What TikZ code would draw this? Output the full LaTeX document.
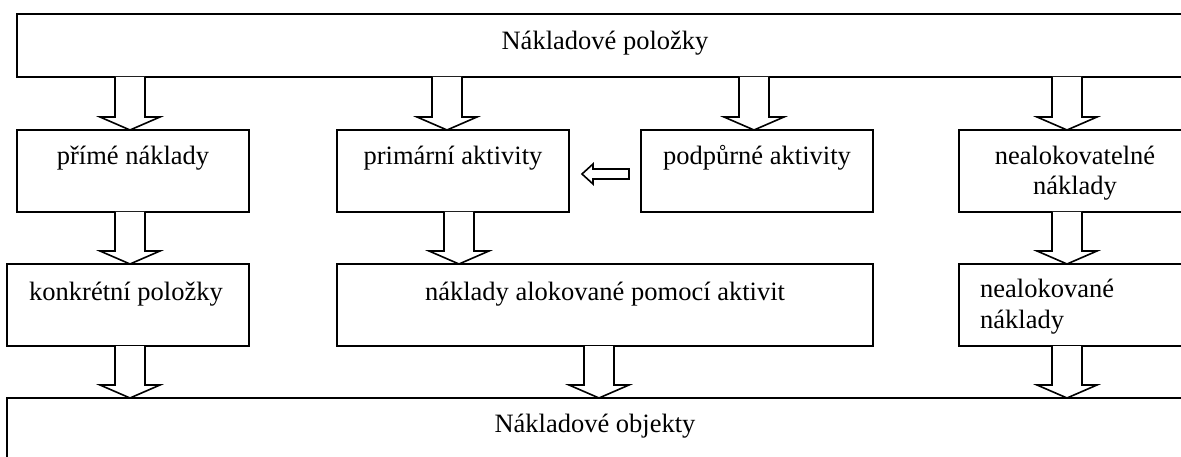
\documentclass[tikz,border=0pt]{standalone}
\usepackage{fontspec}
\setmainfont{Liberation Serif}
\usetikzlibrary{calc}
\tikzset{
  box/.style={draw, line width=1.6pt, inner sep=0pt, outer sep=0pt, anchor=north west},
  lbl/.style={font=\fontsize{26.5}{31}\selectfont, anchor=base, inner sep=0pt},
  lblw/.style={lbl, anchor=base west},
  fat/.style={draw, fill=white, line width=1.6pt, line join=miter},
}
\newcommand\fatdown[3]{%
  \draw[fat] let \p1=(#2.south), \p2=(#3.north) in
    ({#1pt-15pt},\y1) -- ({#1pt-15pt},{\y2+13pt}) -- ({#1pt-30pt},{\y2+13pt}) --
    (#1pt,\y2) -- ({#1pt+30pt},{\y2+13pt}) -- ({#1pt+15pt},{\y2+13pt}) -- ({#1pt+15pt},\y1);}
\begin{document}
\begin{tikzpicture}[x=1pt,y=-1pt]
\useasboundingbox (0,0) rectangle (1181,457);
\clip (0,0) rectangle (1181,457);
% boxes
\node[box, minimum width=1176pt, minimum height=63pt] (top) at (17,14) {};
\node[box, minimum width=232pt, minimum height=82pt] (pn) at (17,130) {};
\node[box, minimum width=232pt, minimum height=82pt] (pa) at (337,130) {};
\node[box, minimum width=232pt, minimum height=82pt] (pod) at (641,130) {};
\node[box, minimum width=232pt, minimum height=82pt] (nn) at (959,130) {};
\node[box, minimum width=242pt, minimum height=82pt] (kp) at (7,264) {};
\node[box, minimum width=536pt, minimum height=82pt] (na) at (337,264) {};
\node[box, minimum width=232pt, minimum height=82pt] (ne) at (959,264) {};
\node[box, minimum width=1176pt, minimum height=100pt] (bot) at (7,398) {};
% texts
\node[lbl] (ttop) at (605,50) {Nákladové položky};
\node[lbl] (tpn) at (133,165) {přímé náklady};
\node[lbl] (tpa) at (453,165) {primární aktivity};
\node[lbl] (tpod) at (757,165) {podpůrné aktivity};
\node[lbl] (tnn1) at (1075,165) {nealokovatelné};
\node[lbl] (tnn2) at (1075,195) {náklady};
\node[lbl] (tkp) at (126,300) {konkrétní položky};
\node[lbl] (tna) at (605,300) {náklady alokované pomocí aktivit};
\node[lblw] (tne1) at (980,298) {nealokované};
\node[lblw] (tne2) at (980,328) {náklady};
\node[lbl] (tbot) at (595,432) {Nákladové objekty};
% fat arrows
\fatdown{130}{top}{pn}
\fatdown{447}{top}{pa}
\fatdown{754}{top}{pod}
\fatdown{1067}{top}{nn}
\fatdown{130}{pn}{kp}
\fatdown{459}{pa}{na}
\fatdown{1067}{nn}{ne}
\fatdown{130}{kp}{bot}
\fatdown{599}{na}{bot}
\fatdown{1067}{ne}{bot}
% left arrow podpurne -> primarni
\draw[fat] let \p1=(pod.west), \p2=(pa.east) in
  ({\x1-12pt},{\y1-8pt}) -- ({\x2+24pt},{\y1-8pt}) -- ({\x2+24pt},{\y1-13pt}) --
  ({\x2+13pt},{\y1-3pt}) -- ({\x2+24pt},{\y1+7pt}) -- ({\x2+24pt},{\y1+2pt}) --
  ({\x1-12pt},{\y1+2pt}) -- cycle;
\end{tikzpicture}
\end{document}
